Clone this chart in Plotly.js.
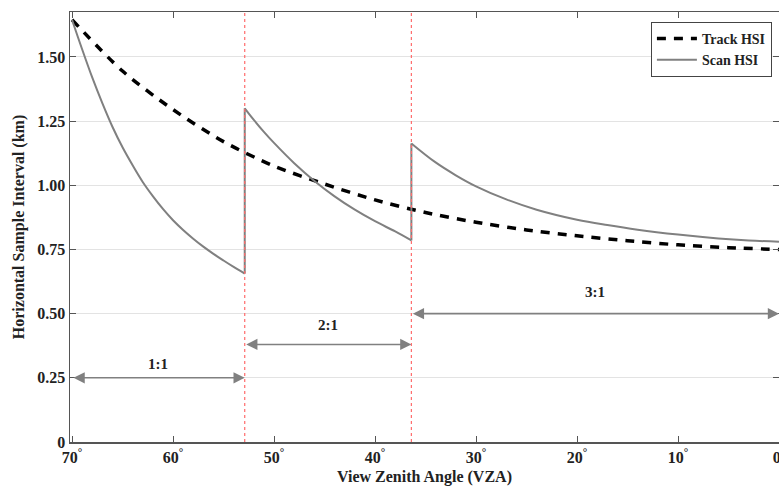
<!DOCTYPE html>
<html>
<head>
<meta charset="utf-8">
<script src="https://cdn.plot.ly/plotly-3.0.1.min.js"></script>
<style>html,body{margin:0;padding:0;background:#fff;}#chart{width:779px;height:494px;}</style>
</head>
<body>
<div id="chart"></div>
<script>
// Track HSI (dashed) values
const trackVZA = [70, 65, 60, 55, 50, 45, 40, 35, 30, 25, 20, 15, 10, 5, 0];
const trackHSI = [1.645, 1.445, 1.295, 1.17, 1.075, 1.005, 0.943, 0.894, 0.856, 0.826, 0.803, 0.784, 0.768, 0.757, 0.75];

// Scan HSI (solid), three segments (1:1, 2:1, 3:1)
const scan1VZA = [70, 69, 68, 67, 66, 65, 64, 63, 62, 61, 60, 59, 58, 57, 56, 55, 54, 52.9];
const scan1HSI = [1.645, 1.53, 1.42, 1.32, 1.228, 1.148, 1.078, 1.013, 0.958, 0.908, 0.864, 0.826, 0.792, 0.761, 0.733, 0.707, 0.682, 0.656];
const scan2VZA = [52.9, 52, 51, 50, 48, 46, 44, 42, 40, 38, 36.4];
const scan2HSI = [1.30, 1.255, 1.208, 1.165, 1.086, 1.017, 0.957, 0.905, 0.86, 0.82, 0.785];
const scan3VZA = [36.4, 34, 32, 30, 27, 24, 20, 17, 14, 10, 6, 3, 0];
const scan3HSI = [1.163, 1.089, 1.039, 0.996, 0.945, 0.905, 0.866, 0.845, 0.827, 0.808, 0.793, 0.785, 0.78];

// Region boundaries and ratio labels
const boundaries = [52.9, 36.4];
const ratioLabels = ['1:1', '2:1', '3:1'];
const ratioFrom = [70, 52.9, 36.4];
const ratioTo = [52.9, 36.4, 0];
const ratioArrowY = [0.25, 0.38, 0.50];
const ratioLabelY = [0.305, 0.455, 0.585];

const xTickVals = [70, 60, 50, 40, 30, 20, 10, 0];
const xTickText = xTickVals.map(v => v + '<sup>°</sup>');
const yTickVals = [0, 0.25, 0.5, 0.75, 1.0, 1.25, 1.5];
const yTickText = ['0', '0.25', '0.50', '0.75', '1.00', '1.25', '1.50'];

const serif = 'Liberation Serif, Times New Roman, serif';
const scanLine = {color: '#808080', width: 2};
const scanSpline = {color: '#808080', width: 2, shape: 'spline', smoothing: 1};

const segs = [[scan1VZA, scan1HSI], [scan2VZA, scan2HSI], [scan3VZA, scan3HSI]];
const traces = [
  {x: trackVZA, y: trackHSI, mode: 'lines', name: 'Track HSI', line: {color: '#000', width: 3.5, dash: '9px,8px', shape: 'spline', smoothing: 0.8}}
];
segs.forEach((s, i) => {
  traces.push({x: s[0], y: s[1], mode: 'lines', name: 'Scan HSI', legendgroup: 'scan', showlegend: i === 0, line: scanSpline});
  if (i > 0) {
    const p = segs[i - 1];
    traces.push({x: [p[0][p[0].length - 1], s[0][0]], y: [p[1][p[1].length - 1], s[1][0]], mode: 'lines',
      legendgroup: 'scan', showlegend: false, line: scanLine});
  }
});

const shapes = boundaries.map(b => ({type: 'line', xref: 'x', yref: 'paper', x0: b, x1: b, y0: 0, y1: 1,
  line: {color: '#ff6b6b', width: 1.2, dash: 'dot'}}));

const annotations = [];
ratioLabels.forEach((lab, i) => {
  annotations.push({x: ratioTo[i], y: ratioArrowY[i], ax: ratioFrom[i], ay: ratioArrowY[i], xref: 'x', yref: 'y', axref: 'x', ayref: 'y',
    text: '', showarrow: true, arrowside: 'end+start', arrowhead: 2, arrowsize: 1.4, arrowwidth: 1.6, arrowcolor: '#808080'});
  annotations.push({x: (ratioFrom[i] + ratioTo[i]) / 2, y: ratioLabelY[i], xref: 'x', yref: 'y', text: lab, showarrow: false,
    font: {family: serif, size: 15, color: '#222', weight: 'bold'}});
});

const layout = {
  width: 779, height: 494,
  margin: {l: 70, r: 0, t: 12, b: 52},
  paper_bgcolor: '#fff', plot_bgcolor: '#fff',
  showlegend: true,
  legend: {x: 0.99, y: 0.977, xanchor: 'right', yanchor: 'top', bgcolor: '#fff', bordercolor: '#444', borderwidth: 1,
    font: {family: serif, size: 14, color: '#222', weight: 'bold'}, tracegroupgap: 0, itemwidth: 40},
  xaxis: {range: [70.2, 0], tickvals: xTickVals, ticktext: xTickText, ticks: 'inside', ticklen: 6, tickcolor: '#555',
    ticklabeloverflow: 'allow',
    showline: true, linecolor: '#555', linewidth: 1.5, mirror: 'ticks', showgrid: false, zeroline: false,
    tickfont: {family: serif, size: 16, color: '#222', weight: 'bold'},
    title: {text: 'View Zenith Angle (VZA)', font: {family: serif, size: 16, color: '#222', weight: 'bold'}, standoff: 6}},
  yaxis: {range: [0, 1.675], tickvals: yTickVals, ticktext: yTickText, ticks: 'inside', ticklen: 6, tickcolor: '#555',
    showline: true, linecolor: '#555', linewidth: 1.5, mirror: 'ticks', showgrid: true, gridcolor: '#e3e3e3', gridwidth: 1, zeroline: false,
    tickfont: {family: serif, size: 16, color: '#222', weight: 'bold'},
    title: {text: 'Horizontal Sample Interval (km)', font: {family: serif, size: 16, color: '#222', weight: 'bold'}, standoff: 8}},
  shapes: shapes,
  annotations: annotations
};

Plotly.newPlot('chart', traces, layout, {displayModeBar: false, staticPlot: true});
</script>
</body>
</html>
